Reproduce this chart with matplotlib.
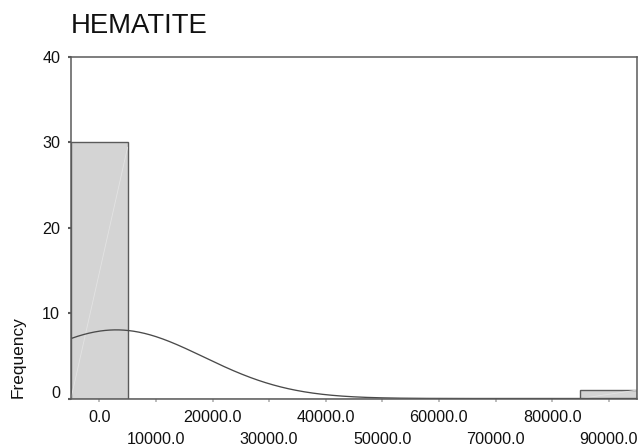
import numpy as np
import matplotlib
matplotlib.use("Agg")
import matplotlib.pyplot as plt
from matplotlib.ticker import FixedLocator, FixedFormatter
from matplotlib.transforms import ScaledTranslation

plt.rcParams['font.family'] = ['Liberation Sans', 'DejaVu Sans']

# ---- data ----
title = "HEMATITE"
bin_centers = [0, 10000, 20000, 30000, 40000, 50000, 60000, 70000, 80000, 90000]
counts = [30, 0, 0, 0, 0, 0, 0, 0, 0, 1]
bin_width = 10000
mean_val = 3000.0
std_val = 15400.0
n_total = 31
y_ticks = [0, 10, 20, 30, 40]
x_tick_labels = ["0.0", "10000.0", "20000.0", "30000.0", "40000.0",
                 "50000.0", "60000.0", "70000.0", "80000.0", "90000.0"]

W, H = 639, 446
fig = plt.figure(figsize=(W / 100, H / 100), dpi=100)
ax = fig.add_axes([71 / W, 1 - 398.5 / H, (637 - 71) / W, (398.5 - 56.7) / H])

spine_c = '#5a5a5a'
bar_face = '#d4d4d4'

ax.bar(bin_centers, counts, width=bin_width, color=bar_face,
       edgecolor=spine_c, linewidth=1.0, zorder=2)

# faint rendering diagonals inside bars
for c, h in zip(bin_centers, counts):
    if h > 0:
        ax.plot([c - bin_width / 2, c + bin_width / 2], [0, h * 0.98],
                color='#e3e3e3', lw=0.6, zorder=2.5)

# normal curve overlay
xmin, xmax = bin_centers[0] - bin_width / 2, bin_centers[-1] + bin_width / 2
xs = np.linspace(xmin, xmax, 600)
ys = n_total * bin_width / (std_val * np.sqrt(2 * np.pi)) * \
    np.exp(-0.5 * ((xs - mean_val) / std_val) ** 2)
ax.plot(xs, ys, color='#4a4a4a', lw=0.95, zorder=3)

ax.set_xlim(xmin, xmax)
ax.set_ylim(0, 40)

for s in ax.spines.values():
    s.set_color(spine_c)
    s.set_linewidth(1.1)
    s.set_zorder(4)

# y ticks
ax.set_yticks(y_ticks)
ax.set_yticklabels([str(v) for v in y_ticks])
ax.tick_params(axis='y', length=2.2, width=1.5, color=spine_c,
               labelsize=11.6, pad=5.6, labelcolor='#111111')

# x ticks: alternating rows
major_pos = bin_centers[0::2]
minor_pos = bin_centers[1::2]
ax.xaxis.set_major_locator(FixedLocator(major_pos))
ax.xaxis.set_major_formatter(FixedFormatter(x_tick_labels[0::2]))
ax.xaxis.set_minor_locator(FixedLocator(minor_pos))
ax.xaxis.set_minor_formatter(FixedFormatter(x_tick_labels[1::2]))
ax.tick_params(axis='x', which='both', length=2, width=1.2, color='#b0b0b0',
               labelsize=11.6, labelcolor='#111111')
ax.tick_params(axis='x', which='major', pad=6.6)
ax.tick_params(axis='x', which='minor', pad=6.6 + 21.7 * 0.72)

fig.canvas.draw()
# raise the "0" label slightly as in the reference
for lab in ax.get_yticklabels():
    if lab.get_text() == "0":
        lab.set_transform(lab.get_transform() +
                          ScaledTranslation(0, 7 / 100, fig.dpi_scale_trans))

fig.text(71.0 / W, 1 - 33.3 / H, title, fontsize=19.8, ha='left',
         va='baseline', color='#111111')
fig.text(18.5 / W, 1 - 357 / H, "Frequency", rotation=90, fontsize=12.4,
         ha='center', va='center', color='#111111')

fig.savefig("out.png", dpi=100)
